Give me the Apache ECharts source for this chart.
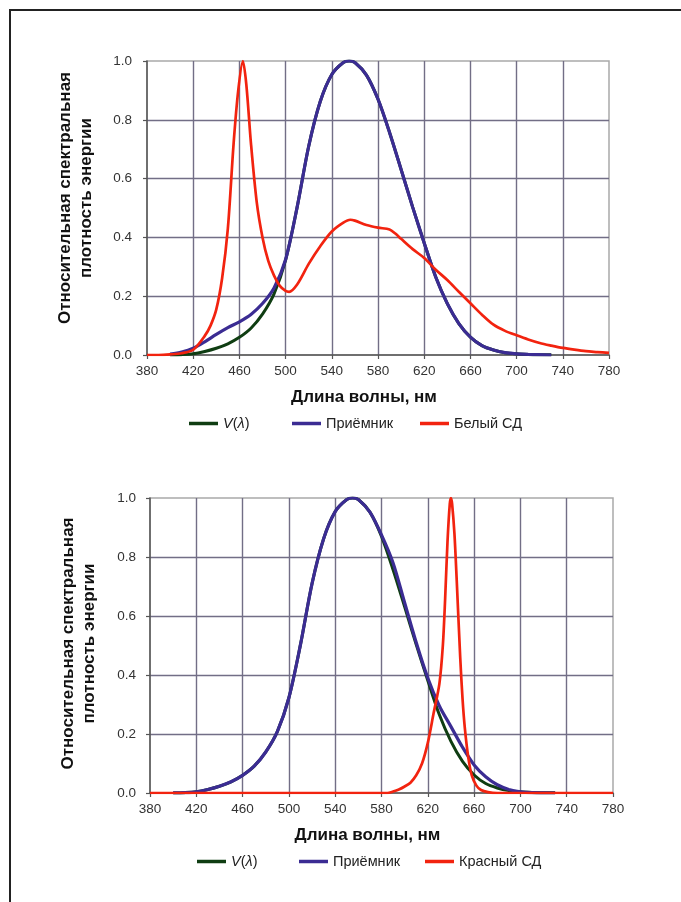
<!DOCTYPE html>
<html>
<head>
<meta charset="utf-8">
<script src="https://cdn.jsdelivr.net/npm/echarts@6/dist/echarts.min.js"></script>
<style>
html,body{margin:0;padding:0;background:#fff;}
#c{width:681px;height:902px;}
</style>
</head>
<body>
<div id="c"></div>
<script>
// ---- Data ----
const xTicks = [380, 420, 460, 500, 540, 580, 620, 660, 700, 740, 780];
const yTicks = [0.0, 0.2, 0.4, 0.6, 0.8, 1.0];

// V(λ) — same curve on both charts
const wlV = [400,410,420,430,440,450,460,470,480,490,500,510,520,530,540,550,555,560,570,580,590,600,610,620,630,640,650,660,670,680,690,700,710,720,730];
const vLambda = [0.0004,0.0012,0.004,0.012,0.023,0.038,0.06,0.091,0.139,0.208,0.323,0.503,0.71,0.862,0.954,0.995,1.0,0.995,0.952,0.87,0.757,0.631,0.503,0.381,0.265,0.175,0.107,0.061,0.032,0.017,0.008,0.004,0.002,0.001,0.0005];

// Top chart: receiver
const wlRecvTop = [400,410,420,430,440,450,460,470,480,490,500,510,520,530,540,550,555,560,570,580,590,600,610,620,630,640,650,660,670,680,690,700,710,730];
const recvTop = [0.003,0.01,0.023,0.045,0.07,0.093,0.113,0.138,0.175,0.228,0.325,0.503,0.71,0.862,0.954,0.995,1.0,0.995,0.952,0.87,0.757,0.631,0.503,0.381,0.265,0.175,0.107,0.061,0.032,0.017,0.008,0.004,0.002,0.0];

// Top chart: white LED
const wlWhite = [380,390,400,410,420,430,435,440,445,450,455,459,463,466,470,475,480,485,490,495,500,503,510,520,530,540,550,556,560,570,580,590,595,600,610,620,630,640,650,660,670,680,690,700,710,720,730,740,750,760,770,780];
const whiteLed = [0,0,0.002,0.006,0.018,0.065,0.1,0.155,0.26,0.43,0.72,0.9,1.0,0.92,0.72,0.52,0.4,0.32,0.27,0.235,0.218,0.215,0.24,0.31,0.37,0.42,0.45,0.46,0.457,0.442,0.433,0.427,0.413,0.395,0.36,0.33,0.29,0.255,0.215,0.176,0.137,0.103,0.082,0.067,0.053,0.041,0.032,0.024,0.018,0.013,0.01,0.007];

// Bottom chart: receiver
const wlRecvBot = [400,410,420,430,440,450,460,470,480,490,500,510,520,530,540,550,555,560,570,580,590,600,610,620,630,640,650,660,670,680,690,700,710,730];
const recvBot = [0.0004,0.0012,0.004,0.012,0.023,0.038,0.06,0.091,0.139,0.208,0.323,0.503,0.71,0.862,0.954,0.995,1.0,0.995,0.952,0.875,0.78,0.645,0.51,0.39,0.295,0.225,0.155,0.095,0.055,0.028,0.012,0.004,0.001,0.0];

// Bottom chart: red LED
const wlRed = [380,585,590,595,600,605,610,615,620,625,630,633,635,637,639,640,641,643,645,648,650,652,655,658,662,666,672,680,780];
const redLed = [0,0,0.005,0.012,0.022,0.035,0.06,0.1,0.17,0.27,0.37,0.5,0.66,0.85,0.98,1.0,0.98,0.88,0.72,0.46,0.32,0.22,0.12,0.06,0.025,0.01,0.003,0,0];

// ---- Styling ----
const FONT = "'Liberation Sans', Arial, sans-serif";
const GREEN = '#0f3d12', BLUE = '#3b2c93', RED = '#f2230f';
const GRIDLINE = '#726e86';

function zip(xs, ys){ return xs.map((x,i)=>[x, ys[i]]); }

const grids = [
  {left:147, top:61, width:462, height:294},
  {left:150, top:498, width:463, height:295}
];

function visibleX(gi){
  const step = xTicks[1]-xTicks[0];
  return {
    type:'value', gridIndex:gi, position:'bottom', min:0, max:(xTicks[xTicks.length-1]-xTicks[0]), interval:step,
    axisLine:{show:true, onZero:false, lineStyle:{color:'#555', width:1.5}},
    axisTick:{show:true, length:4, lineStyle:{color:'#555', width:1.2}},
    axisLabel:{margin:9, fontSize:13.5, color:'#333', fontFamily:FONT, formatter:(v)=>String(xTicks[Math.round(v/step)])},
    splitLine:{show:true, showMinLine:false, showMaxLine:false, lineStyle:{color:GRIDLINE, width:1.4}},
    name:'Длина волны, нм', nameLocation:'middle', nameGap:34,
    nameTextStyle:{fontSize:17, fontWeight:'bold', color:'#111', fontFamily:FONT, padding:[0,28,0,0]}
  };
}
function dataX(gi){
  return {type:'value', gridIndex:gi, position:'top', min:xTicks[0], max:xTicks[xTicks.length-1], show:false};
}
function yAx(gi, margin, gap, pad){
  return {
    type:'value', gridIndex:gi, min:yTicks[0], max:yTicks[yTicks.length-1], interval:yTicks[1]-yTicks[0],
    axisLine:{show:true, lineStyle:{color:'#555', width:1.5}},
    axisTick:{show:true, length:4, lineStyle:{color:'#555', width:1.2}},
    axisLabel:{margin:margin, fontSize:13.5, color:'#333', fontFamily:FONT, formatter:(v)=>v.toFixed(1)},
    splitLine:{show:true, showMinLine:false, showMaxLine:false, lineStyle:{color:GRIDLINE, width:1.4}},
    name:'Относительная спектральная\nплотность энергии', nameLocation:'middle', nameRotate:90, nameGap:gap,
    nameTextStyle:{fontSize:17, fontWeight:'bold', color:'#111', fontFamily:FONT, lineHeight:21, padding:pad}
  };
}

function line(name, xs, ys, color, width, gi, z){
  return {
    type:'line', name:name, xAxisIndex:gi*2+1, yAxisIndex:gi, data:zip(xs, ys),
    showSymbol:false, symbol:'none', smooth:0.3, z:z,
    lineStyle:{color:color, width:width}, itemStyle:{color:color}, silent:true, animation:false
  };
}

function leg(name, left, top){
  return {
    data:[name], left:left, top:top, icon:'rect', itemWidth:29, itemHeight:3.5, itemGap:0, padding:0,
    selectedMode:false,
    textStyle:{fontSize:14.5, color:'#222', fontFamily:FONT, rich:{i:{fontStyle:'italic', fontSize:14.5, fontFamily:FONT, color:'#222'}}},
    formatter:(n)=> n === 'V(λ)' ? '{i|V}({i|λ})' : n
  };
}

const option = {
  animation:false,
  backgroundColor:'#fff',
  grid: grids.map(g=>Object.assign({show:true, borderColor:'#a9a9a9', borderWidth:1.5, backgroundColor:'transparent'}, g)),
  xAxis:[visibleX(0), dataX(0), visibleX(1), dataX(1)],
  yAxis:[yAx(0, 15, 50, [0,0,0,20]), yAx(1, 14, 50, [0,0,0,4])],
  legend:[
    leg('V(λ)', 189, 416),
    leg('Приёмник', 292, 416),
    leg('Белый СД', 420, 416),
    leg('V(λ)', 197, 854),
    leg('Приёмник', 299, 854),
    leg('Красный СД', 425, 854)
  ],
  series:[
    line('V(λ)', wlV, vLambda, GREEN, 3, 0, 2),
    line('Приёмник', wlRecvTop, recvTop, BLUE, 3.2, 0, 3),
    line('Белый СД', wlWhite, whiteLed, RED, 2.7, 0, 4),
    line('V(λ)', wlV, vLambda, GREEN, 3, 1, 2),
    line('Приёмник', wlRecvBot, recvBot, BLUE, 3.2, 1, 3),
    line('Красный СД', wlRed, redLed, RED, 2.7, 1, 4)
  ],
  graphic:[
    {type:'line', shape:{x1:9, y1:10, x2:681, y2:10}, style:{stroke:'#222', lineWidth:2}, silent:true},
    {type:'line', shape:{x1:10, y1:9, x2:10, y2:902}, style:{stroke:'#222', lineWidth:2}, silent:true}
  ]
};

const chart = echarts.init(document.getElementById('c'), null, {renderer:'canvas'});
chart.setOption(option);
</script>
</body>
</html>
